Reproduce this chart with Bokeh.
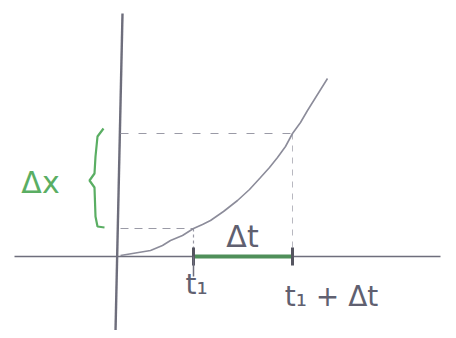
from bokeh.plotting import figure
from bokeh.models import Range1d
from bokeh.core.properties import value
from bokeh.embed import file_html
from bokeh.resources import INLINE

# hand-drawn curve x(t)
curve_t = [0.0, 1.5, 3.0, 4.2, 5.0, 6.2, 7.3, 8.2, 9.0, 10.3, 11.7, 12.9, 14.0, 14.9,
           15.7, 16.5, 17.2, 18.0, 18.7, 19.7, 20.7]
curve_x = [0.1, 0.35, 0.6, 1.1, 1.6, 2.1, 2.8, 3.2, 3.6, 4.5, 5.6, 6.7, 7.9, 8.9,
           9.9, 11.0, 12.3, 13.4, 14.6, 16.2, 17.8]
t1 = 7.3
t2 = 17.2
x1 = 2.8
x2 = 12.3
t_axis = [-10.6, 32.0]
x_axis = [24.3, -7.5]
labels_t = ["t₁", "t₁ + Δt"]

p = figure(width=448, height=330, output_backend="svg", toolbar_location=None,
           x_range=Range1d(-12.0, 32.8), y_range=Range1d(-7.4, 25.6),
           min_border=0)
p.axis.visible = False
p.grid.visible = False
p.outline_line_color = None
p.background_fill_color = "white"

ax_col = "#6e6e7c"
# axes
p.line(t_axis, [0, 0], line_color=ax_col, line_width=1.6)
p.line([0.2, -0.5], x_axis, line_color=ax_col, line_width=2.4)

# dashed helper lines
dash_col = "#9a9aa6"
p.line([0, t2], [x2, x2], line_color=dash_col, line_width=1.2, line_dash="8 10")
p.line([0, t1], [x1, x1], line_color=dash_col, line_width=1.2, line_dash="8 6")
p.line([t1, t1], [x1, 0], line_color=dash_col, line_width=1.2, line_dash="3 3")
p.line([t2, t2], [x2, 0], line_color="#b8b8c0", line_width=1.0, line_dash="6 6")

# curve
p.line(curve_t, curve_x, line_color="#8c8c9a", line_width=1.6)

# green interval
p.line([t1, t2], [0, 0], line_color="#4f8f5a", line_width=4)
p.segment([t1, t2], [-0.9, -0.9], [t1, t2], [0.9, 0.9], line_color="#555560", line_width=3)
p.line([t1, t1], [0, -2.0], line_color=ax_col, line_width=1.5)

# brace for Δx (left of the axis)
green = "#5aae63"
bx = [-1.7, -2.3, -2.5, -2.6, -3.1, -2.6, -2.5, -2.3, -1.6]
by = [12.8, 12.0, 10.0, 8.3, 7.6, 6.9, 4.0, 3.0, 2.9]
p.line(bx, by, line_color=green, line_width=2.2)

p.text(x=[-8.0], y=[7.4], text=["Δx"], text_color=green, text_font=value("DejaVu Sans"),
       text_font_size="30px", text_align="center", text_baseline="middle")
p.text(x=[12.2], y=[2.0], text=["Δt"], text_color="#606070", text_font=value("DejaVu Sans"),
       text_font_size="30px", text_align="center", text_baseline="middle")
p.text(x=[t1 + 0.3, t2 + 3.9], y=[-2.8, -4.0], text=labels_t, text_color="#606070",
       text_font=value("DejaVu Sans"), text_font_size="28px",
       text_align="center", text_baseline="middle")

open("out.html", "w").write(file_html(p, INLINE))
